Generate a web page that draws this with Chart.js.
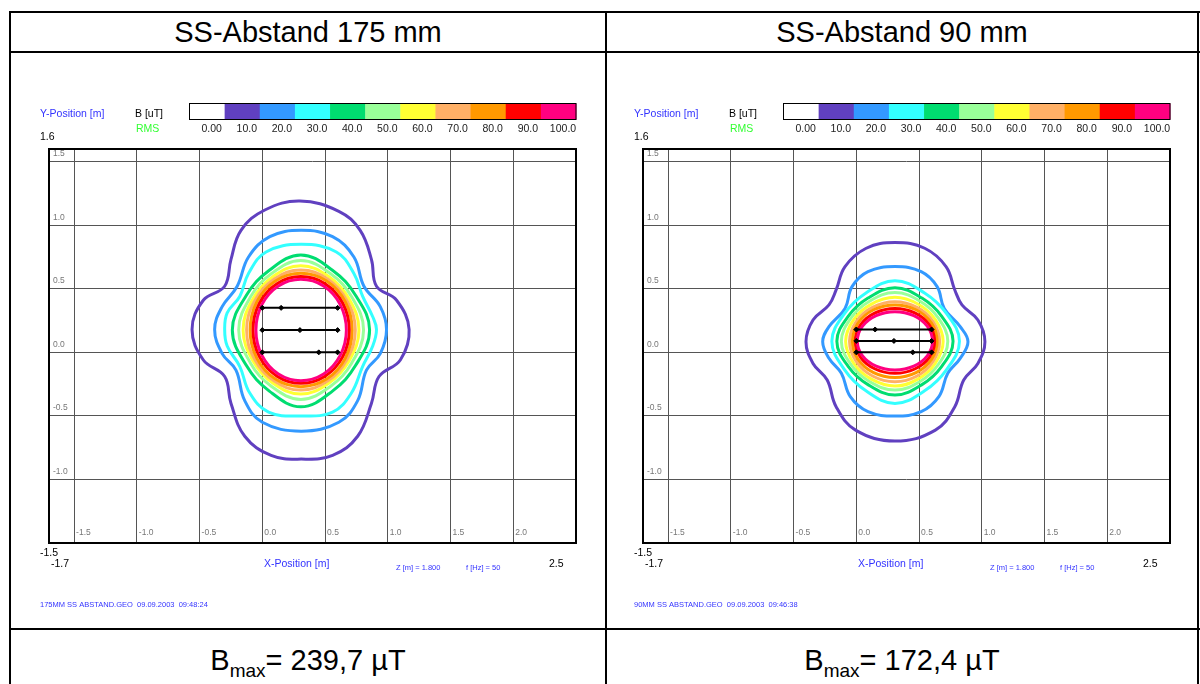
<!DOCTYPE html>
<html>
<head>
<meta charset="utf-8">
<script src="https://cdn.jsdelivr.net/npm/chart.js@4.4.1/dist/chart.umd.min.js"></script>
<style>
  body { margin: 0; background: #fff; width: 1200px; height: 684px; overflow: hidden; position: relative;
         font-family: "Liberation Sans", Arial, sans-serif; }
  .line { position: absolute; background: #000; }
  .cell-text { position: absolute; text-align: center; color: #000; white-space: nowrap; }
  .cell-text sub { font-size: 19px; vertical-align: -7px; line-height: 0; }
  canvas { position: absolute; top: 0; }
</style>
</head>
<body>
<div class="line" style="left:9px; top:11px; width:1191px; height:2px"></div>
<div class="line" style="left:9px; top:51px; width:1191px; height:2px"></div>
<div class="line" style="left:9px; top:628px; width:1191px; height:2px"></div>
<div class="line" style="left:9px; top:11px; width:2px; height:673px"></div>
<div class="line" style="left:605px; top:11px; width:2px; height:673px"></div>
<div class="line" style="left:1197px; top:11px; width:2px; height:673px"></div>

<div class="cell-text" id="title0" style="left:10px; top:12px; width:596px; height:40px; line-height:40px; font-size:29px"></div>
<div class="cell-text" id="title1" style="left:606px; top:12px; width:592px; height:40px; line-height:40px; font-size:29px"></div>
<div class="cell-text" id="bmax0" style="left:10px; top:630px; width:596px; height:60px; line-height:60px; font-size:29px"></div>
<div class="cell-text" id="bmax1" style="left:606px; top:630px; width:592px; height:60px; line-height:60px; font-size:29px"></div>

<canvas id="chart175" width="600" height="684" style="left:0px"></canvas>
<canvas id="chart90" width="600" height="684" style="left:594px"></canvas>

<script>
// Table texts
const panelTitles = ["SS-Abstand 175 mm", "SS-Abstand 90 mm"];
const bMaxValues = ["239,7", "172,4"];
const fileNames = [
  "175MM SS ABSTAND.GEO  09.09.2003  09:48:24",
  "90MM SS ABSTAND.GEO  09.09.2003  09:46:38",
];

// Colour scale (B [uT], RMS)
const levelLabels = ["0.00", "10.0", "20.0", "30.0", "40.0", "50.0", "60.0", "70.0", "80.0", "90.0", "100.0"];
const levelColors = ["#ffffff", "#6040c0", "#3399ff", "#33ffff", "#00dd70", "#99ff99",
                     "#ffff33", "#ffb066", "#ff9900", "#ff0000", "#ff0080"];

// Axes
const xRange = [-1.7, 2.5];
const yRange = [-1.5, 1.6];
const xTickValues = [-1.5, -1.0, -0.5, 0.0, 0.5, 1.0, 1.5, 2.0];
const yTickValues = [-1.0, -0.5, 0.0, 0.5, 1.0, 1.5];

// Conductors: x extent, y of each conductor, position of the middle marker
const conductorX = [0.0, 0.6];
const conductorY175 = [0.35, 0.175, 0.0];
const conductorY90 = [0.18, 0.09, 0.0];
const markerX = [0.15, 0.3, 0.45];

// Contour lines, 175 mm, [x, y] in m
const c175_10 = [[0.30,1.19],[0.61,1.11],[0.78,0.96],[0.87,0.73],[0.91,0.52],[1.07,0.41],[1.17,0.18],[1.10,-0.06],
  [0.93,-0.19],[0.87,-0.40],[0.76,-0.66],[0.56,-0.81],[0.31,-0.84],[0.07,-0.81],[-0.14,-0.66],[-0.25,-0.40],
  [-0.30,-0.19],[-0.47,-0.06],[-0.56,0.18],[-0.47,0.41],[-0.30,0.52],[-0.25,0.73],[-0.17,0.96],[0.02,1.12]];
const c175_20 = [[0.31,0.96],[0.56,0.91],[0.73,0.75],[0.81,0.52],[0.94,0.36],[0.99,0.18],[0.94,-0.01],[0.83,-0.14],
  [0.76,-0.38],[0.61,-0.55],[0.31,-0.62],[0.00,-0.55],[-0.14,-0.38],[-0.21,-0.14],[-0.32,-0.01],[-0.38,0.18],
  [-0.32,0.36],[-0.20,0.52],[-0.11,0.75],[0.06,0.91]];
const c175_30 = [[0.31,0.85],[0.59,0.79],[0.73,0.62],[0.80,0.44],[0.88,0.28],[0.91,0.18],[0.88,0.05],[0.80,-0.11],
  [0.71,-0.32],[0.56,-0.47],[0.31,-0.50],[0.05,-0.47],[-0.10,-0.32],[-0.18,-0.11],[-0.28,0.05],[-0.30,0.18],
  [-0.28,0.31],[-0.18,0.44],[-0.11,0.62],[0.03,0.79]];
const c175_40 = [[0.307,0.766],[0.559,0.646],[0.744,0.447],[0.855,0.176],[0.744,-0.102],[0.559,-0.305],
  [0.307,-0.428],[0.056,-0.305],[-0.128,-0.102],[-0.239,0.176],[-0.128,0.447],[0.056,0.646]];
const c175_50 = [[0.307,0.722],[0.542,0.620],[0.714,0.433],[0.807,0.176],[0.714,-0.081],[0.542,-0.268],
  [0.307,-0.370],[0.074,-0.268],[-0.096,-0.081],[-0.188,0.176],[-0.096,0.433],[0.074,0.620]];
const c175_60 = [[0.307,0.682],[0.529,0.597],[0.692,0.419],[0.770,0.176],[0.692,-0.066],[0.529,-0.243],
  [0.307,-0.328],[0.086,-0.243],[-0.075,-0.066],[-0.153,0.176],[-0.075,0.419],[0.086,0.597]];
const c175_70 = [[0.307,0.648],[0.520,0.577],[0.675,0.407],[0.741,0.176],[0.675,-0.056],[0.520,-0.226],
  [0.307,-0.297],[0.095,-0.226],[-0.060,-0.056],[-0.125,0.176],[-0.060,0.407],[0.095,0.577]];
const c175_80 = [[0.307,0.622],[0.512,0.562],[0.661,0.399],[0.716,0.176],[0.661,-0.047],[0.512,-0.210],
  [0.307,-0.270],[0.105,-0.210],[-0.043,-0.047],[-0.097,0.176],[-0.043,0.399],[0.105,0.562]];
const c175_90 = [[0.307,0.596],[0.500,0.540],[0.641,0.386],[0.693,0.176],[0.641,-0.034],[0.500,-0.188],
  [0.307,-0.244],[0.117,-0.188],[-0.023,-0.034],[-0.074,0.176],[-0.023,0.386],[0.117,0.540]];
const c175_100 = [[0.307,0.575],[0.489,0.522],[0.621,0.376],[0.670,0.176],[0.621,-0.024],[0.489,-0.170],
  [0.307,-0.223],[0.128,-0.170],[-0.003,-0.024],[-0.051,0.176],[-0.003,0.376],[0.128,0.522]];

// Contour lines, 90 mm, [x, y] in m
const c90_10 = [[0.308,0.864],[0.545,0.819],[0.715,0.675],[0.785,0.491],[0.842,0.373],[0.969,0.255],[1.025,0.084],
  [0.969,-0.087],[0.856,-0.218],[0.785,-0.428],[0.630,-0.612],[0.308,-0.698],[-0.006,-0.612],[-0.161,-0.428],
  [-0.232,-0.218],[-0.345,-0.087],[-0.401,0.084],[-0.345,0.255],[-0.218,0.373],[-0.161,0.491],[-0.090,0.675],[0.079,0.819]];
const c90_20 = [[0.308,0.675],[0.517,0.635],[0.644,0.517],[0.701,0.346],[0.828,0.202],[0.890,0.084],[0.828,-0.047],
  [0.729,-0.165],[0.658,-0.349],[0.517,-0.467],[0.308,-0.501],[0.093,-0.467],[-0.048,-0.349],[-0.119,-0.165],
  [-0.218,-0.047],[-0.268,0.084],[-0.218,0.202],[-0.090,0.346],[-0.034,0.517],[0.093,0.635]];
const c90_30 = [[0.308,0.564],[0.544,0.467],[0.718,0.306],[0.822,0.087],[0.718,-0.138],[0.544,-0.303],
  [0.308,-0.402],[0.077,-0.303],[-0.093,-0.138],[-0.195,0.087],[-0.093,0.306],[0.077,0.467]];
const c90_40 = [[0.308,0.509],[0.523,0.427],[0.681,0.283],[0.771,0.087],[0.681,-0.110],[0.523,-0.254],
  [0.308,-0.336],[0.093,-0.254],[-0.065,-0.110],[-0.155,0.087],[-0.065,0.283],[0.093,0.427]];
const c90_50 = [[0.308,0.470],[0.508,0.402],[0.654,0.269],[0.729,0.087],[0.654,-0.095],[0.508,-0.229],
  [0.308,-0.297],[0.105,-0.229],[-0.043,-0.095],[-0.119,0.087],[-0.043,0.269],[0.105,0.402]];
const c90_60 = [[0.308,0.433],[0.494,0.378],[0.631,0.255],[0.692,0.087],[0.631,-0.084],[0.494,-0.209],
  [0.308,-0.265],[0.117,-0.209],[-0.022,-0.084],[-0.085,0.087],[-0.022,0.255],[0.117,0.378]];
const c90_70 = [[0.308,0.399],[0.484,0.354],[0.613,0.241],[0.664,0.087],[0.613,-0.070],[0.484,-0.186],
  [0.308,-0.231],[0.129,-0.186],[-0.002,-0.070],[-0.054,0.087],[-0.002,0.241],[0.129,0.354]];
const c90_80 = [[0.308,0.373],[0.476,0.335],[0.599,0.230],[0.644,0.087],[0.599,-0.055],[0.476,-0.159],
  [0.308,-0.197],[0.138,-0.159],[0.014,-0.055],[-0.031,0.087],[0.014,0.230],[0.138,0.335]];
const c90_90 = [[0.308,0.346],[0.466,0.311],[0.582,0.217],[0.624,0.087],[0.582,-0.039],[0.466,-0.131],
  [0.308,-0.165],[0.150,-0.131],[0.034,-0.039],[-0.008,0.087],[0.034,0.217],[0.150,0.311]];
const c90_100 = [[0.308,0.320],[0.458,0.289],[0.567,0.204],[0.607,0.087],[0.567,-0.026],[0.458,-0.109],
  [0.308,-0.139],[0.158,-0.109],[0.048,-0.026],[0.008,0.087],[0.048,0.204],[0.158,0.289]];

const FONT = '"Liberation Sans", Arial, sans-serif';

// Table cell texts
panelTitles.forEach((t, i) => {
  document.getElementById("title" + i).textContent = t;
  document.getElementById("bmax" + i).innerHTML = "B<sub>max</sub>= " + bMaxValues[i] + " \u00b5T";
});

// Close contour lines as loops (same trick the radar chart uses)
const closeContours = {
  id: "closeContours",
  afterDatasetUpdate(chart, args) {
    if (chart.data.datasets[args.index].closedLoop) {
      args.meta.dataset._loop = true;
      args.meta.dataset._fullLoop = true;
    }
  },
};

// Frame, tick labels inside the frame, colour bar and the plot texts
const panelDecor = {
  id: "panelDecor",
  afterDraw(chart, args, opts) {
    const ctx = chart.ctx;
    const area = chart.chartArea;
    const xs = chart.scales.x;
    const ys = chart.scales.y;
    ctx.save();

    ctx.font = "8.5px " + FONT;
    ctx.fillStyle = "#777";
    ctx.textBaseline = "middle";
    ctx.textAlign = "left";
    xTickValues.forEach((v) => ctx.fillText(v.toFixed(1), xs.getPixelForValue(v) + 2, area.bottom - 10));
    yTickValues.forEach((v) => ctx.fillText(v.toFixed(1), area.left + 4, ys.getPixelForValue(v) - 8));

    ctx.strokeStyle = "#000";
    ctx.lineWidth = 2;
    ctx.strokeRect(area.left, area.top, area.right - area.left, area.bottom - area.top);

    // colour bar
    const barLeft = 189.5;
    const barTop = 103.5;
    const barH = 16;
    const cellW = (area.right - barLeft) / levelColors.length;
    levelColors.forEach((c, i) => {
      ctx.fillStyle = c;
      ctx.fillRect(barLeft + i * cellW, barTop, cellW + 0.5, barH);
    });
    ctx.lineWidth = 1;
    ctx.strokeRect(barLeft, barTop, area.right - barLeft, barH);

    ctx.font = "10.5px " + FONT;
    ctx.fillStyle = "#222";
    ctx.textAlign = "center";
    levelLabels.forEach((t, i) => ctx.fillText(t, barLeft + (i + 1) * cellW - 13, 129));

    ctx.textAlign = "left";
    const text = (t, x, y, color, size) => {
      ctx.font = size + "px " + FONT;
      ctx.fillStyle = color;
      ctx.fillText(t, x, y);
    };
    text("Y-Position [m]", 40, 114, "#3333ff", 10.5);
    text("B [uT]", 135, 114, "#000", 10.5);
    text("RMS", 136, 129, "#33ff33", 10.5);
    text(yRange[1].toFixed(1), 40, 137, "#000", 10.5);
    text(yRange[0].toFixed(1), 40, 553, "#000", 10.5);
    text(xRange[0].toFixed(1), 51, 564, "#000", 10.5);
    text("X-Position [m]", 264, 564, "#3333ff", 10.5);
    text("Z [m] = 1.800", 396, 568, "#3333ff", 7.5);
    text("f [Hz] = 50", 466, 568, "#3333ff", 7.5);
    text(xRange[1].toFixed(1), 549, 564, "#000", 10.5);
    text(opts.fileName, 40, 605, "#3333ff", 7.5);
    ctx.restore();
  },
};

function buildChart(canvasId, contours, conductorYs, fileName) {
  const datasets = [];

  // Conductors with their markers, drawn on top
  conductorYs.forEach((y, i) => {
    datasets.push({
      data: [
        { x: conductorX[0], y: y },
        { x: markerX[i], y: y },
        { x: conductorX[1], y: y },
      ],
      showLine: true,
      borderColor: "#000",
      borderWidth: 2,
      pointStyle: "rectRot",
      pointRadius: 2.5,
      pointBackgroundColor: "#000",
      pointBorderColor: "#000",
      pointBorderWidth: 1,
      order: 0,
    });
  });

  // One closed line per level, inner levels above outer ones
  contours.forEach((pts, i) => {
    datasets.push({
      data: pts.map((p) => ({ x: p[0], y: p[1] })),
      showLine: true,
      closedLoop: true,
      borderColor: levelColors[i + 1],
      borderWidth: 3,
      borderJoinStyle: "round",
      tension: 0.4,
      pointRadius: 0,
      order: 20 - i,
    });
  });

  return new Chart(document.getElementById(canvasId), {
    type: "scatter",
    data: { datasets: datasets },
    plugins: [closeContours, panelDecor],
    options: {
      responsive: false,
      animation: false,
      devicePixelRatio: 1,
      layout: { padding: { left: 49, top: 149, right: 24, bottom: 141 } },
      plugins: {
        legend: { display: false },
        tooltip: { enabled: false },
        panelDecor: { fileName: fileName },
      },
      scales: {
        x: {
          type: "linear",
          min: xRange[0],
          max: xRange[1],
          afterBuildTicks: (axis) => {
            axis.ticks = xTickValues.map((v) => ({ value: v }));
          },
          ticks: { display: false },
          grid: { color: "#555", lineWidth: 1, drawTicks: false },
          border: { display: false },
        },
        y: {
          type: "linear",
          min: yRange[0],
          max: yRange[1],
          afterBuildTicks: (axis) => {
            axis.ticks = yTickValues.map((v) => ({ value: v }));
          },
          ticks: { display: false },
          grid: { color: "#555", lineWidth: 1, drawTicks: false },
          border: { display: false },
        },
      },
    },
  });
}

buildChart("chart175",
  [c175_10, c175_20, c175_30, c175_40, c175_50, c175_60, c175_70, c175_80, c175_90, c175_100],
  conductorY175, fileNames[0]);
buildChart("chart90",
  [c90_10, c90_20, c90_30, c90_40, c90_50, c90_60, c90_70, c90_80, c90_90, c90_100],
  conductorY90, fileNames[1]);
</script>
</body>
</html>
